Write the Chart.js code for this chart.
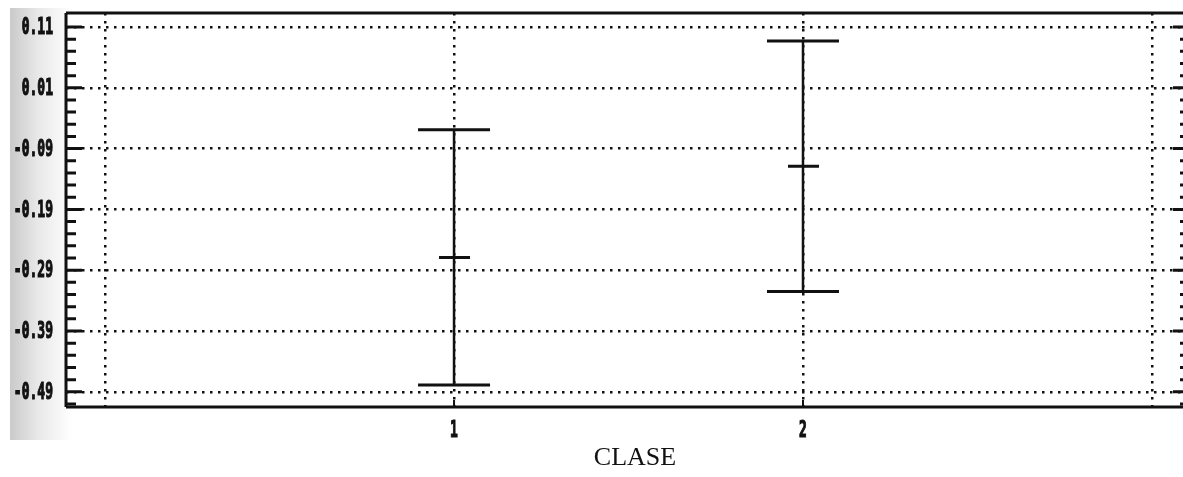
<!DOCTYPE html>
<html>
<head>
<meta charset="utf-8">
<script src="https://cdn.jsdelivr.net/npm/chart.js@4.4.1/dist/chart.umd.min.js"></script>
<style>
    body { margin: 0; background: #fff; }
    canvas { display: block; }
</style>
</head>
<body>
<canvas id="myChart" width="1183" height="477"></canvas>
<script>
// data
const categories = [1, 2];
const means = [-0.269, -0.119];
const upperLimits = [-0.059, 0.087];
const lowerLimits = [-0.479, -0.325];
const yTicks = [0.11, 0.01, -0.09, -0.19, -0.29, -0.39, -0.49];
const xTicks = [0, 1, 2, 3];
const xLabels = ["1", "2"];
const axisTitle = "CLASE";

const ink = "#111";
const labelFont = 'bold 13px "DejaVu Sans Mono"';

// scanned-page grey shading on the left
const shading = {
    id: "shading",
    beforeDraw(chart) {
        const ctx = chart.ctx;
        const grad = ctx.createLinearGradient(10, 0, 72, 0);
        grad.addColorStop(0, "#cacaca");
        grad.addColorStop(0.45, "#e8e8e8");
        grad.addColorStop(1, "#ffffff");
        ctx.save();
        ctx.fillStyle = grad;
        ctx.fillRect(10, 8, 62, 432);
        ctx.restore();
    },
};

function stretchedText(ctx, text, x, y, align) {
    ctx.save();
    ctx.translate(x, y);
    ctx.scale(1, 1.7);
    ctx.font = labelFont;
    ctx.textAlign = align;
    ctx.textBaseline = "middle";
    ctx.lineWidth = 0.7;
    ctx.strokeText(text, 0, 0);
    ctx.fillText(text, 0, 0);
    ctx.restore();
}

const frameAndBars = {
    id: "frameAndBars",
    afterDraw(chart) {
        const ctx = chart.ctx;
        const area = chart.chartArea;
        const xs = chart.scales.x;
        const ys = chart.scales.y;
        ctx.save();
        ctx.strokeStyle = ink;
        ctx.fillStyle = ink;

        // frame
        ctx.lineWidth = 3;
        ctx.beginPath();
        ctx.moveTo(area.left, area.top);
        ctx.lineTo(area.right, area.top);
        ctx.moveTo(area.left, area.top);
        ctx.lineTo(area.left, area.bottom);
        ctx.moveTo(area.left, area.bottom);
        ctx.lineTo(area.right, area.bottom);
        ctx.stroke();

        // inner tick marks every 0.02 on both sides
        const rightEdge = area.right + 4;
        for (let k = -1; k <= 31; k++) {
            const v = -0.49 + k * 0.02;
            const py = ys.getPixelForValue(v);
            if (py < area.top + 2 || py > area.bottom - 2) continue;
            const major = k % 5 === 0;
            ctx.lineWidth = 3;
            ctx.beginPath();
            ctx.moveTo(area.left, py);
            ctx.lineTo(area.left + (major ? 16 : 10), py);
            ctx.moveTo(rightEdge, py);
            ctx.lineTo(rightEdge - (major ? 14 : 7), py);
            ctx.stroke();
        }

        // category ticks on the bottom
        categories.forEach((c) => {
            const px = xs.getPixelForValue(c);
            ctx.lineWidth = 2;
            ctx.beginPath();
            ctx.moveTo(px, area.bottom);
            ctx.lineTo(px, area.bottom - 7);
            ctx.stroke();
        });

        // error bars
        categories.forEach((c, i) => {
            const px = xs.getPixelForValue(c);
            const yUp = ys.getPixelForValue(upperLimits[i]);
            const yMid = ys.getPixelForValue(means[i]);
            const yLow = ys.getPixelForValue(lowerLimits[i]);
            ctx.lineWidth = 2.5;
            ctx.beginPath();
            ctx.moveTo(px, yUp);
            ctx.lineTo(px, yLow);
            ctx.stroke();
            ctx.lineWidth = 3;
            ctx.beginPath();
            ctx.moveTo(px - 36, yUp);
            ctx.lineTo(px + 36, yUp);
            ctx.moveTo(px - 36, yLow);
            ctx.lineTo(px + 36, yLow);
            ctx.moveTo(px - 15, yMid);
            ctx.lineTo(px + 16, yMid);
            ctx.stroke();
        });

        // tick labels
        yTicks.forEach((v) => {
            stretchedText(ctx, v.toFixed(2), 53, ys.getPixelForValue(v) + 1.5, "right");
        });
        categories.forEach((c, i) => {
            stretchedText(ctx, xLabels[i], xs.getPixelForValue(c), 431, "center");
        });

        ctx.font = '26px "Liberation Serif"';
        ctx.textAlign = "center";
        ctx.textBaseline = "middle";
        ctx.fillText(axisTitle, 635, 458);
        ctx.restore();
    },
};

const gridStyle = {
    color: ink,
    lineWidth: 2.5,
    drawTicks: false,
};

new Chart(document.getElementById("myChart"), {
    type: "scatter",
    data: {
        datasets: [
            {
                data: categories.map((c, i) => ({ x: c, y: means[i] })),
                pointRadius: 0,
                showLine: false,
            },
        ],
    },
    options: {
        responsive: false,
        animation: false,
        layout: { padding: { top: 13, right: 0, left: 0, bottom: 0 } },
        plugins: {
            legend: { display: false },
            tooltip: { enabled: false },
        },
        scales: {
            x: {
                type: "linear",
                min: -0.112,
                max: 3.089,
                afterBuildTicks: (scale) => {
                    scale.ticks = xTicks.map((v) => ({ value: v }));
                },
                afterFit: (scale) => {
                    scale.height = 70;
                },
                ticks: { display: false },
                grid: gridStyle,
                border: { display: false, dash: [2.5, 5.5] },
            },
            y: {
                min: -0.515,
                max: 0.133,
                afterBuildTicks: (scale) => {
                    scale.ticks = yTicks.map((v) => ({ value: v }));
                },
                afterFit: (scale) => {
                    scale.width = 66;
                },
                ticks: { display: false },
                grid: gridStyle,
                border: { display: false, dash: [2.5, 5.5] },
            },
        },
    },
    plugins: [shading, frameAndBars],
});
</script>
</body>
</html>
